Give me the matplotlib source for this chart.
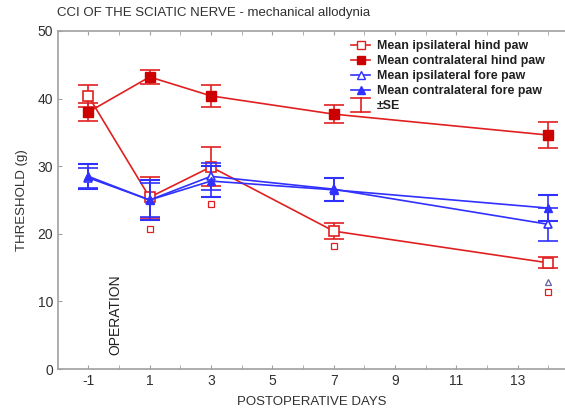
import matplotlib.pyplot as plt
from matplotlib.lines import Line2D
from matplotlib.legend_handler import HandlerBase

days = [-1, 1, 3, 7, 14]

# mean thresholds (g) and standard errors
ipsi_hind = [40.4, 25.4, 29.9, 20.4, 15.7]
ipsi_hind_se = [1.6, 3.0, 2.9, 1.2, 0.8]
contra_hind = [38.0, 43.2, 40.4, 37.7, 34.6]
contra_hind_se = [1.3, 1.0, 1.6, 1.3, 1.9]
ipsi_fore = [28.3, 25.0, 28.5, 26.6, 21.4]
ipsi_fore_se = [1.5, 2.5, 2.0, 1.7, 2.4]
contra_fore = [28.5, 25.0, 27.8, 26.5, 23.8]
contra_fore_se = [1.8, 3.0, 2.3, 1.7, 1.9]

# outlying values
out_sq_x = [1, 3, 7, 14]
out_sq_y = [20.7, 24.4, 18.2, 11.4]
out_tri_x = [14]
out_tri_y = [12.9]

red = '#e02020'
dred = '#cc0000'
blue = '#3030ff'
grey = '#a0a0a0'

plt.rcParams['font.family'] = ['Liberation Sans', 'DejaVu Sans']
plt.rcParams['axes.unicode_minus'] = False


class SEHandler(HandlerBase):
    # I-beam symbol for the +-SE entry
    def create_artists(self, legend, orig, xd, yd, w, h, fs, trans):
        cx = w / 2 - xd
        cap = w * 0.5
        lo, hi = -yd - h * 0.3, -yd + h * 1.3
        arts = [Line2D([cx, cx], [lo, hi]),
                Line2D([cx - cap, cx + cap], [lo, lo]),
                Line2D([cx - cap, cx + cap], [hi, hi])]
        for a in arts:
            a.set_color(red)
            a.set_linewidth(1.2)
            a.set_transform(trans)
        return arts


fig = plt.figure(figsize=(5.65, 4.13), dpi=100)
ax = fig.add_axes([0.103, 0.1065, 0.897, 0.8185])

ax.errorbar(days, ipsi_hind, yerr=ipsi_hind_se, color=red, marker='s', ms=7,
            mfc='white', mec=red, mew=1.2, lw=1.2, capsize=7, capthick=1.2, zorder=3)
ax.errorbar(days, contra_hind, yerr=contra_hind_se, color=red, marker='s', ms=7,
            mfc=dred, mec=dred, lw=1.2, capsize=7, capthick=1.2, zorder=3)
ax.errorbar(days, ipsi_fore, yerr=ipsi_fore_se, color=blue, marker='^', ms=6,
            mfc='white', mec=blue, mew=1.2, lw=1.2, capsize=7, capthick=1.5, zorder=4)
ax.errorbar(days, contra_fore, yerr=contra_fore_se, color=blue, marker='^', ms=6,
            mfc=blue, mec=blue, lw=1.2, capsize=7, capthick=1.5, zorder=4)

ax.plot(out_sq_x, out_sq_y, ls='none', marker='s', ms=4, mfc='white', mec=red, mew=0.9)
ax.plot(out_tri_x, out_tri_y, ls='none', marker='^', ms=4, mfc='white', mec='#6060a0', mew=0.9)

ax.text(-0.1, 8, 'OPERATION', rotation=90, ha='center', va='center', fontsize=10, color='#202020')

ax.set_xlim(-1.98, 14.54)
ax.set_ylim(0, 50)
ax.set_xticks([-1, 1, 3, 5, 7, 9, 11, 13])
ax.set_xticks(range(-1, 15), minor=True)
ax.set_yticks([0, 10, 20, 30, 40, 50])
ax.tick_params(axis='both', which='both', direction='in', color=grey, labelcolor='#303030',
               labelsize=10, top=True, length=3)
for side in ['left', 'bottom', 'top']:
    ax.spines[side].set_color(grey)
    ax.spines[side].set_linewidth(1.2)
ax.spines['right'].set_visible(False)

ax.set_xlabel('POSTOPERATIVE DAYS', fontsize=9.5, color='#303030', labelpad=6)
ax.set_ylabel('THRESHOLD (g)', fontsize=9.5, color='#303030', labelpad=7)
ax.set_title('CCI OF THE SCIATIC NERVE - mechanical allodynia', fontsize=9.5,
             color='#303030', loc='left', x=-0.002, pad=11)

handles = [
    Line2D([], [], color=red, marker='s', ms=6, mfc='white', mec=red, lw=1.2),
    Line2D([], [], color=red, marker='s', ms=6, mfc=dred, mec=dred, lw=1.2),
    Line2D([], [], color=blue, marker='^', ms=6, mfc='white', mec=blue, lw=1.2),
    Line2D([], [], color=blue, marker='^', ms=6, mfc=blue, mec=blue, lw=1.2),
    'se',
]
labels = ['Mean ipsilateral hind paw', 'Mean contralateral hind paw',
          'Mean ipsilateral fore paw', 'Mean contralateral fore paw', '\u00b1SE']
leg = ax.legend(handles, labels, loc='upper left', bbox_to_anchor=(0.556, 1.006),
                frameon=False, prop={'weight': 'bold', 'size': 8.9},
                handlelength=1.55, handletextpad=0.55, labelspacing=0.25,
                handler_map={str: SEHandler()})
for t in leg.get_texts():
    t.set_color('#202020')

fig.savefig('out.png', dpi=100)
